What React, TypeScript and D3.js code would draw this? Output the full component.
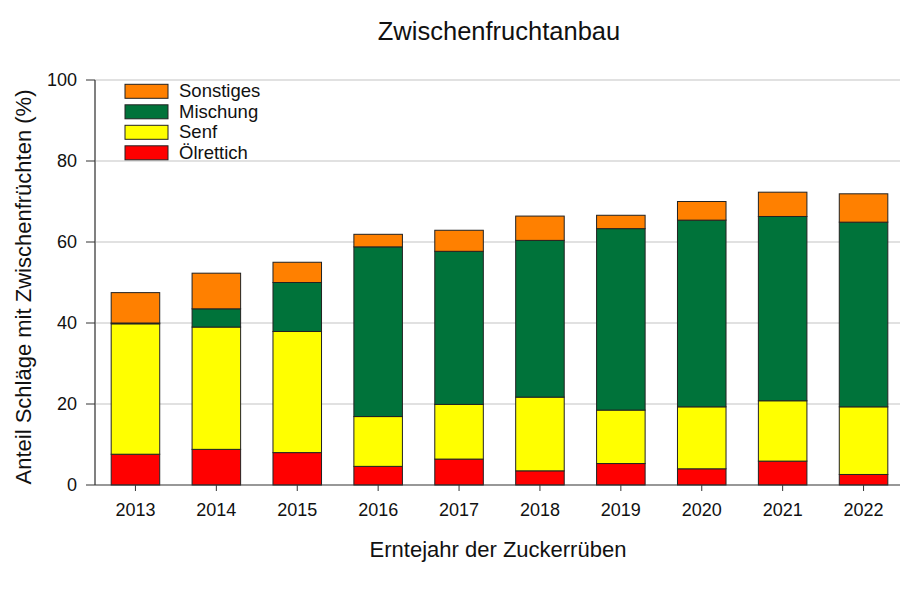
import React from "react";
import * as d3 from "d3";

const years = ["2013","2014","2015","2016","2017","2018","2019","2020","2021","2022"];
const oelrettich = [7.6, 8.8, 8.0, 4.6, 6.4, 3.5, 5.3, 4.0, 5.9, 2.6];
const senf = [32.2, 30.2, 29.9, 12.3, 13.5, 18.2, 13.2, 15.3, 14.9, 16.7];
const mischung = [0.2, 4.5, 12.1, 41.9, 37.8, 38.7, 44.8, 46.1, 45.5, 45.6];
const sonstiges = [7.5, 8.8, 5.0, 3.1, 5.2, 6.0, 3.3, 4.6, 6.0, 7.0];
const yTicks = [0, 20, 40, 60, 80, 100];

const seriesKeys = ["oelrettich", "senf", "mischung", "sonstiges"];
const seriesNames = ["Ölrettich", "Senf", "Mischung", "Sonstiges"];
const seriesColors = ["#ff0000", "#ffff00", "#00733a", "#ff8000"];

export default function App() {
  const W = 900, H = 600;
  const left = 95, right = 904, top = 80, bottom = 485;
  const font = "Arial, 'Liberation Sans', sans-serif";

  const rows = years.map((y, i) => ({
    year: y,
    oelrettich: oelrettich[i],
    senf: senf[i],
    mischung: mischung[i],
    sonstiges: sonstiges[i],
  }));
  const stack = d3.stack<any>().keys(seriesKeys)(rows);

  const x = d3.scaleBand().domain(years).range([left, right]).paddingInner(0.4).paddingOuter(0.2);
  const y = d3.scaleLinear().domain([0, 100]).range([bottom, top]);

  const legendOrder = [3, 2, 1, 0];

  return (
    <svg width={W} height={H} style={{ position: "absolute", left: 0, top: 0 }} fontFamily={font}>
      <rect x={0} y={0} width={W} height={H} fill="#fff" />
      {yTicks.filter(t => t > 0).map(t => (
        <line key={"g" + t} x1={left} x2={right} y1={y(t)} y2={y(t)} stroke="#c4c4c4" strokeWidth={1.2} />
      ))}
      {stack.map((s, si) => (
        <g key={s.key}>
          {s.map((d, i) => {
            const y0 = y(d[0]), y1 = y(d[1]);
            return (
              <rect key={i} x={x(years[i])!} width={x.bandwidth()} y={y1} height={Math.max(0, y0 - y1)}
                fill={seriesColors[si]} stroke="#222" strokeWidth={1} />
            );
          })}
        </g>
      ))}
      {/* y axis */}
      <line x1={left} x2={left} y1={top} y2={bottom} stroke="#808080" strokeWidth={2} />
      {yTicks.map(t => (
        <g key={"t" + t}>
          <line x1={left - 9} x2={left} y1={y(t)} y2={y(t)} stroke="#333" strokeWidth={1} />
          <text x={left - 18} y={y(t)} dy="0.35em" textAnchor="end" fontSize={18} fill="#111">{t}</text>
        </g>
      ))}
      {/* x axis */}
      <line x1={left} x2={right} y1={bottom} y2={bottom} stroke="#333" strokeWidth={1.2} />
      {years.map(yr => {
        const cx = x(yr)! + x.bandwidth() / 2;
        return (
          <g key={"x" + yr}>
            <line x1={cx} x2={cx} y1={bottom} y2={bottom + 6} stroke="#333" strokeWidth={1} />
            <text x={cx} y={bottom + 31} textAnchor="middle" fontSize={18} fill="#111">{yr}</text>
          </g>
        );
      })}
      {/* legend */}
      {legendOrder.map((si, k) => {
        const ly = 91.3 + k * 20.5;
        return (
          <g key={"l" + si}>
            <rect x={125} y={ly - 7} width={43} height={14} fill={seriesColors[si]} stroke="#222" strokeWidth={1} />
            <text x={179} y={ly} dy="0.33em" fontSize={18.5} fill="#111">{seriesNames[si]}</text>
          </g>
        );
      })}
      <text x={499} y={40} textAnchor="middle" fontSize={25.5} fill="#111">Zwischenfruchtanbau</text>
      <text x={498} y={557} textAnchor="middle" fontSize={22} fill="#111">Erntejahr der Zuckerrüben</text>
      <text transform={`translate(31, 287) rotate(-90)`} textAnchor="middle" fontSize={22} fill="#111">
        Anteil Schläge mit Zwischenfrüchten (%)
      </text>
    </svg>
  );
}
